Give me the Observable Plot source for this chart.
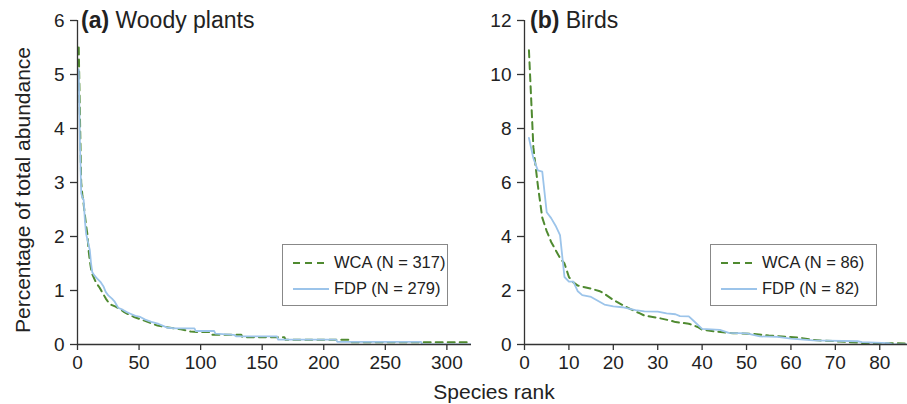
<!DOCTYPE html>
<html>
<head>
<meta charset="utf-8">
<script src="https://cdn.jsdelivr.net/npm/d3@7"></script>
<script src="https://cdn.jsdelivr.net/npm/@observablehq/plot@0.6"></script>
<style>
  html, body { margin: 0; padding: 0; background: #fff; }
  #wrap { position: relative; width: 907px; height: 404px; overflow: hidden; background: #fff;
          font-family: "Liberation Sans", Arial, Helvetica, sans-serif; color: #222; }
  .abs { position: absolute; white-space: nowrap; }
  .title { font-size: 23px; line-height: 1; }
  .title b { font-weight: bold; }
  .legend { position: absolute; border: 1.3px solid #888; background: #fff; box-sizing: border-box; }
  .legend .row { position: absolute; left: 0; font-size: 16.5px; line-height: 1; }
</style>
</head>
<body>
<div id="wrap"></div>
<script>
// ---- Data ----
// (a) Woody plants
const plantsWcaRank = [1,2,3,4,5,6,7,8,9,10,11,12,15,18,20,23,26,31,35,38,42,46,52,58,65,72,84,92,100,108,109,133,134,168,169,220,221,317];
const plantsWcaPct  = [5.5,4.2,3.0,2.75,2.6,2.4,2.2,2.05,1.75,1.55,1.4,1.3,1.15,1.05,0.97,0.85,0.75,0.7,0.65,0.6,0.55,0.51,0.46,0.41,0.35,0.32,0.28,0.24,0.23,0.23,0.18,0.18,0.135,0.135,0.087,0.087,0.04,0.04];
const plantsFdpRank = [1,2,3,4,5,6,7,8,9,10,11,12,14,16,19,21,23,25,28,30,33,37,40,43,47,51,55,60,66,70,73,80,95,96,111,112,127,129,162,163,210,211,279,280,320];
const plantsFdpPct  = [5.1,3.7,2.8,2.72,2.68,2.3,2.05,1.95,1.85,1.75,1.5,1.34,1.27,1.22,1.15,1.08,0.97,0.91,0.85,0.8,0.68,0.64,0.6,0.57,0.53,0.51,0.46,0.42,0.38,0.34,0.31,0.3,0.3,0.25,0.25,0.2,0.18,0.15,0.15,0.09,0.09,0.05,0.05,0,0];
// (b) Birds
const birdsWcaRank = [1,2,3,4,5,6,7,8,9,10,11,12,15,17,18,20,22,24,26,27,30,33,34,37,39,40,43,47,51,55,58,62,65,71,76,86];
const birdsWcaPct  = [10.9,7.3,5.9,4.7,4.2,3.8,3.5,3.2,3.0,2.5,2.3,2.18,2.07,1.97,1.88,1.65,1.47,1.3,1.15,1.07,0.99,0.88,0.83,0.77,0.65,0.55,0.48,0.42,0.4,0.33,0.3,0.25,0.17,0.11,0.06,0.04];
const birdsFdpRank = [1,2,3,4,5,6,7,8,9,10,11,12,13,15,18,20,22,25,27,30,32,34,35,37,38,40,44,46,50,53,57,60,65,75,76,82,83,86];
const birdsFdpPct  = [7.65,6.9,6.45,6.4,4.9,4.68,4.4,4.05,2.5,2.33,2.33,1.97,1.83,1.76,1.48,1.41,1.38,1.27,1.23,1.22,1.15,1.12,1.05,1.04,0.89,0.58,0.54,0.43,0.41,0.3,0.28,0.22,0.15,0.12,0.09,0.05,0,0];

const plantsXTicks = [0,50,100,150,200,250,300];
const plantsYTicks = [0,1,2,3,4,5,6];
const birdsXTicks = [0,10,20,30,40,50,60,70,80];
const birdsYTicks = [0,2,4,6,8,10,12];

const seriesNames = ["WCA", "FDP"];
const plantsN = [317, 279];
const birdsN = [86, 82];

const GREEN = "#4f8a30";
const BLUE = "#9cc4ea";
const AXIS = "#333";

function rows(ranks, pcts) { return ranks.map((r, i) => ({rank: r, pct: pcts[i]})); }

function panel({width, marginLeft, xDomain, yDomain, xTicks, yTicks, wca, fdp}) {
  return Plot.plot({
    width, height: 404,
    marginLeft, marginRight: 0, marginTop: 20, marginBottom: 60,
    style: {fontFamily: '"Liberation Sans", Arial, sans-serif', fontSize: "19px", color: "#222", background: "transparent", overflow: "visible"},
    x: {domain: xDomain},
    y: {domain: yDomain},
    marks: [
      Plot.line(wca, {x: "rank", y: "pct", stroke: GREEN, strokeWidth: 2, strokeDasharray: "7,5", clip: true}),
      Plot.line(fdp, {x: "rank", y: "pct", stroke: BLUE, strokeWidth: 1.8, clip: true}),
      Plot.ruleY([yDomain[0]], {stroke: AXIS, strokeWidth: 1.3}),
      Plot.ruleX([xDomain[0]], {stroke: AXIS, strokeWidth: 1.3}),
      Plot.axisX({ticks: xTicks, tickSize: 6, tickPadding: 5, label: null, stroke: AXIS, strokeWidth: 1.3, fill: "#222", fontSize: 19, tickFormat: d3.format("d")}),
      Plot.axisY({ticks: yTicks, tickSize: 7, tickPadding: 6, label: null, stroke: AXIS, strokeWidth: 1.3, fill: "#222", fontSize: 19, tickFormat: d3.format("d")})
    ]
  });
}

const wrap = document.getElementById("wrap");

const left = panel({width: 471, marginLeft: 77, xDomain: [0, 320], yDomain: [0, 6],
  xTicks: plantsXTicks, yTicks: plantsYTicks,
  wca: rows(plantsWcaRank, plantsWcaPct), fdp: rows(plantsFdpRank, plantsFdpPct)});
left.style.position = "absolute"; left.style.left = "0px"; left.style.top = "0px";
wrap.appendChild(left);

const right = panel({width: 435, marginLeft: 52, xDomain: [0, 86.25], yDomain: [0, 12],
  xTicks: birdsXTicks, yTicks: birdsYTicks,
  wca: rows(birdsWcaRank, birdsWcaPct), fdp: rows(birdsFdpRank, birdsFdpPct)});
right.style.position = "absolute"; right.style.left = "472px"; right.style.top = "0px";
wrap.appendChild(right);

function addText(html, x, y, cls) {
  const d = document.createElement("div");
  d.className = "abs " + (cls || "");
  d.innerHTML = html;
  d.style.left = x + "px"; d.style.top = y + "px";
  wrap.appendChild(d);
  return d;
}

addText("<b>(a)</b>&nbsp;Woody plants", 81, 9, "title");
addText("<b>(b)</b>&nbsp;Birds", 530, 9, "title");

// y-axis title
const yt = document.createElement("div");
yt.className = "abs";
yt.textContent = "Percentage of total abundance";
Object.assign(yt.style, {left: "22px", top: "190px", fontSize: "21px", lineHeight: "1",
  transform: "translate(-50%, -50%) rotate(-90deg)"});
wrap.appendChild(yt);

// x-axis title
const xt = document.createElement("div");
xt.className = "abs";
xt.textContent = "Species rank";
Object.assign(xt.style, {left: "494px", top: "381px", fontSize: "21px", lineHeight: "1",
  transform: "translateX(-50%)"});
wrap.appendChild(xt);

function legend(x, y, w, h, n) {
  const L = document.createElement("div");
  L.className = "legend";
  Object.assign(L.style, {left: x + "px", top: y + "px", width: w + "px", height: h + "px"});
  const items = [
    {name: seriesNames[0], n: n[0], color: GREEN, dash: "7,5", sw: 2, top: 18},
    {name: seriesNames[1], n: n[1], color: BLUE, dash: null, sw: 1.8, top: 44}
  ];
  items.forEach(it => {
    const svgNS = "http://www.w3.org/2000/svg";
    const s = document.createElementNS(svgNS, "svg");
    s.setAttribute("width", 36); s.setAttribute("height", 6);
    Object.assign(s.style, {position: "absolute", left: "10px", top: (it.top - 3) + "px"});
    const ln = document.createElementNS(svgNS, "line");
    ln.setAttribute("x1", 0); ln.setAttribute("x2", 36); ln.setAttribute("y1", 3); ln.setAttribute("y2", 3);
    ln.setAttribute("stroke", it.color); ln.setAttribute("stroke-width", it.sw);
    if (it.dash) ln.setAttribute("stroke-dasharray", it.dash);
    s.appendChild(ln);
    L.appendChild(s);
    const t = document.createElement("div");
    t.className = "row";
    t.textContent = `${it.name} (N = ${it.n})`;
    Object.assign(t.style, {left: "51px", top: (it.top - 9) + "px"});
    L.appendChild(t);
  });
  wrap.appendChild(L);
}
legend(282, 244, 166, 62, plantsN);
legend(710, 244, 167, 62, birdsN);
</script>
</body>
</html>
